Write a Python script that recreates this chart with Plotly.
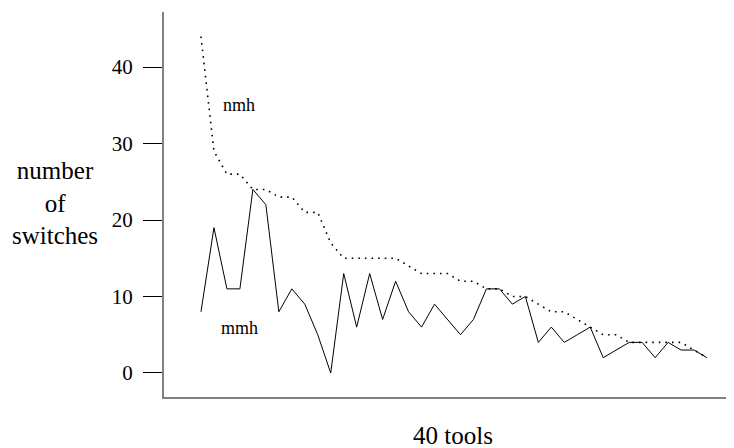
import plotly.graph_objects as go

tools = list(range(1, 41))
nmh = [44, 29, 26, 26, 24, 24, 23, 23, 21, 21,
       17, 15, 15, 15, 15, 15, 14, 13, 13, 13,
       12, 12, 11, 11, 10, 10, 9, 8, 8, 7,
       6, 5, 5, 4, 4, 4, 4, 4, 3, 2]
mmh = [8, 19, 11, 11, 24, 22, 8, 11, 9, 5,
       0, 13, 6, 13, 7, 12, 8, 6, 9, 7,
       5, 7, 11, 11, 9, 10, 4, 6, 4, 5,
       6, 2, 3, 4, 4, 2, 4, 3, 3, 2]
y_ticks = [0, 10, 20, 30, 40]

FONT = "Liberation Serif"

fig = go.Figure()
fig.add_trace(go.Scatter(x=tools, y=nmh, mode="lines", name="nmh",
                         line=dict(color="black", width=1.6, dash="1.6px,5px")))
fig.add_trace(go.Scatter(x=tools, y=mmh, mode="lines", name="mmh",
                         line=dict(color="black", width=1)))

# page body has an 8px margin, so the figure is shrunk by 8px and margins shifted
fig.update_layout(
    width=726, height=440,
    margin=dict(l=156, r=0, t=4, b=51),
    plot_bgcolor="white", paper_bgcolor="white",
    showlegend=False,
    font=dict(family=FONT, color="black"),
    xaxis=dict(range=[-1.85, 42.08], showgrid=False, zeroline=False,
               showline=True, linecolor="#808080", linewidth=2,
               showticklabels=False, ticks=""),
    yaxis=dict(range=[-3.14, 47.2], showgrid=False, zeroline=False,
               showline=True, linecolor="#808080", linewidth=2,
               tickvals=y_ticks, ticks="outside", ticklen=19,
               tickcolor="black", tickwidth=1,
               tickfont=dict(family=FONT, size=21, color="black"),
               ticklabelstandoff=6),
    annotations=[
        dict(text="nmh", x=3.93, y=35.0, xref="x", yref="y", showarrow=False,
             xanchor="center", yanchor="middle", font=dict(size=18)),
        dict(text="mmh", x=3.93, y=5.9, xref="x", yref="y", showarrow=False,
             xanchor="center", yanchor="middle", font=dict(size=18)),
        dict(text="number<br>of<br>switches", x=-0.191, y=0.504,
             xref="paper", yref="paper", showarrow=False,
             xanchor="center", yanchor="middle", align="center",
             font=dict(size=25)),
        dict(text="40 tools", x=0.507, y=-0.101, xref="paper", yref="paper",
             showarrow=False, xanchor="center", yanchor="middle",
             font=dict(size=25)),
    ],
)

fig.write_html("out.html")
